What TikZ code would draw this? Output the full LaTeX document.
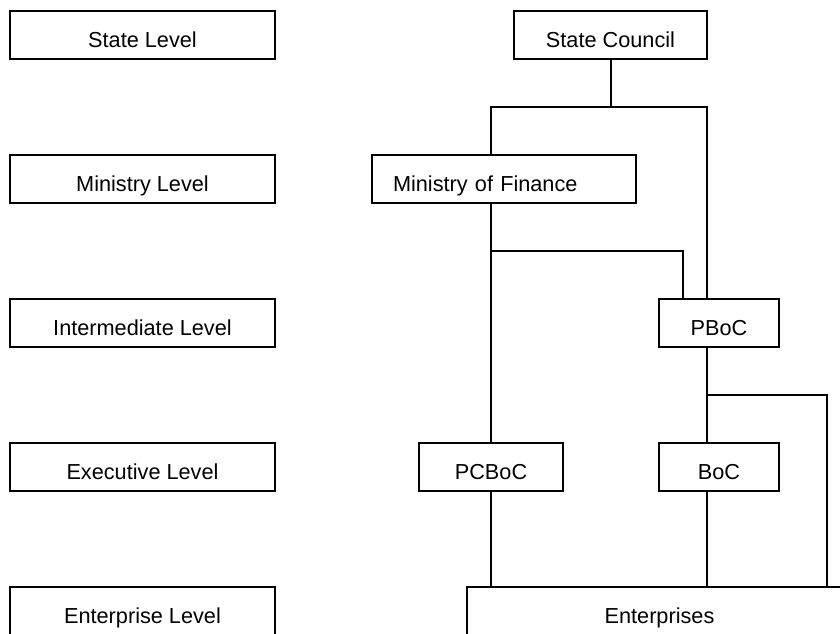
\documentclass[tikz,border=0pt]{standalone}
\usepackage{fontspec}
\setmainfont{Liberation Sans}
\begin{document}
\begin{tikzpicture}[x=0.5pt, y=-0.5pt, line width=1pt,
        font=\fontsize{10.85}{13}\selectfont,
        box/.style={draw, rectangle, inner sep=0pt, minimum height=24pt, text height=12pt, text depth=0pt},
        level/.style={box, minimum width=132.5pt},
        link/.style={line width=1pt}]
            \useasboundingbox (0,0) rectangle (840,633);

            % Draw nodes for the levels
            \node[level] (lstate) at (142.5,35) {State Level};
            \node[level] (lmin) at (142.5,179) {Ministry Level};
            \node[level] (linter) at (142.5,323) {Intermediate Level};
            \node[level] (lexec) at (142.5,467) {Executive Level};
            \node[level] (lent) at (142.5,611) {Enterprise Level};

            % Draw nodes for the institutions
            \node[box, minimum width=96.5pt] (sc) at (610.5,35) {State Council};
            \node[box, anchor=west, text width=111pt, inner xsep=10.5pt, align=left] (mof) at (371,179) {Ministry of Finance};
            \node[box, minimum width=60pt] (pboc) at (719,323) {PBoC};
            \node[box, minimum width=72pt] (pcboc) at (491,467) {PCBoC};
            \node[box, minimum width=60pt] (boc) at (719,467) {BoC};
            \node[box, minimum width=192.5pt] (ent) at (659.5,611) {Enterprises};

            % Junctions of the connectors
            \coordinate (fin) at (491,107);
            \coordinate (bank) at (707,107);
            \coordinate (finsplit) at (491,251);
            \coordinate (pbocin) at (683,251);
            \coordinate (bocsplit) at (707,395);
            \coordinate (direct) at (827,395);

            % Draw edges from the State Council
            \draw[link] (sc.south) -- (sc.south |- fin);
            \draw[link] (mof.north -| fin) |- (bank) -- (bank |- pboc.north);

            % Draw edges from the Ministry of Finance
            \draw[link] (mof.south -| pcboc) -- (pcboc.north);
            \draw[link] (finsplit) -- (pbocin) -- (pbocin |- pboc.north);

            % Draw edges from the PBoC
            \draw[link] (pboc.south -| bank) -- (boc.north -| bank);
            \draw[link] (bocsplit) -- (direct) -- (direct |- ent.north);

            % Draw edges to the enterprises
            \draw[link] (pcboc.south) -- (ent.north -| pcboc);
            \draw[link] (boc.south -| bank) -- (ent.north -| bank);

        \end{tikzpicture}
\end{document}
